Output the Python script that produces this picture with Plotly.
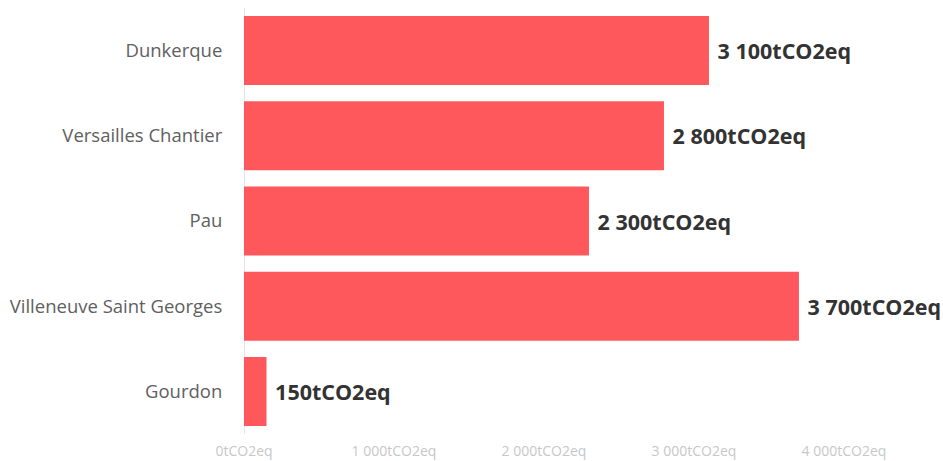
import plotly.graph_objects as go

categories = ["Dunkerque", "Versailles Chantier", "Pau", "Villeneuve Saint Georges", "Gourdon"]
values = [3100, 2800, 2300, 3700, 150]
tick_vals = [0, 1000, 2000, 3000, 4000]
tick_text = ["0tCO2eq", "1 000tCO2eq", "2 000tCO2eq", "3 000tCO2eq", "4 000tCO2eq"]

def fmt(v):
    return f"{v:,}".replace(",", " ") + "tCO2eq"

labels = [" " + fmt(v) for v in values]

fig = go.Figure(go.Bar(
    x=values, y=categories, orientation="h",
    marker=dict(color="#FF585C", line=dict(width=0)),
    text=labels, textposition="outside", cliponaxis=False,
    textfont=dict(family="Open Sans", size=21.5, color="#333333", weight="bold"),
))

fig.update_layout(
    width=943, height=461,
    margin=dict(l=244, r=2, t=8, b=27, pad=0),
    plot_bgcolor="white", paper_bgcolor="white",
    bargap=0.19, showlegend=False,
    font=dict(family="Open Sans"),
)
fig.update_xaxes(
    range=[0, 4647], tickvals=tick_vals, ticktext=tick_text,
    showgrid=False, zeroline=True, zerolinecolor="#e6e6e6", zerolinewidth=1,
    ticks="outside", ticklen=4, tickcolor="rgba(0,0,0,0)",
    tickfont=dict(family="Open Sans", size=14, color="#c8c8c8"),
    showline=False, automargin=False,
)
fig.update_yaxes(
    autorange="reversed", showgrid=False,
    ticks="outside", ticklen=17, tickcolor="rgba(0,0,0,0)",
    tickfont=dict(family="Open Sans", size=18.5, color="#606060"),
    automargin=False,
)

fig.write_html(
    "out.html",
    config={"displayModeBar": False},
    post_script="document.body.style.margin='0';document.body.style.overflow='hidden';",
)
